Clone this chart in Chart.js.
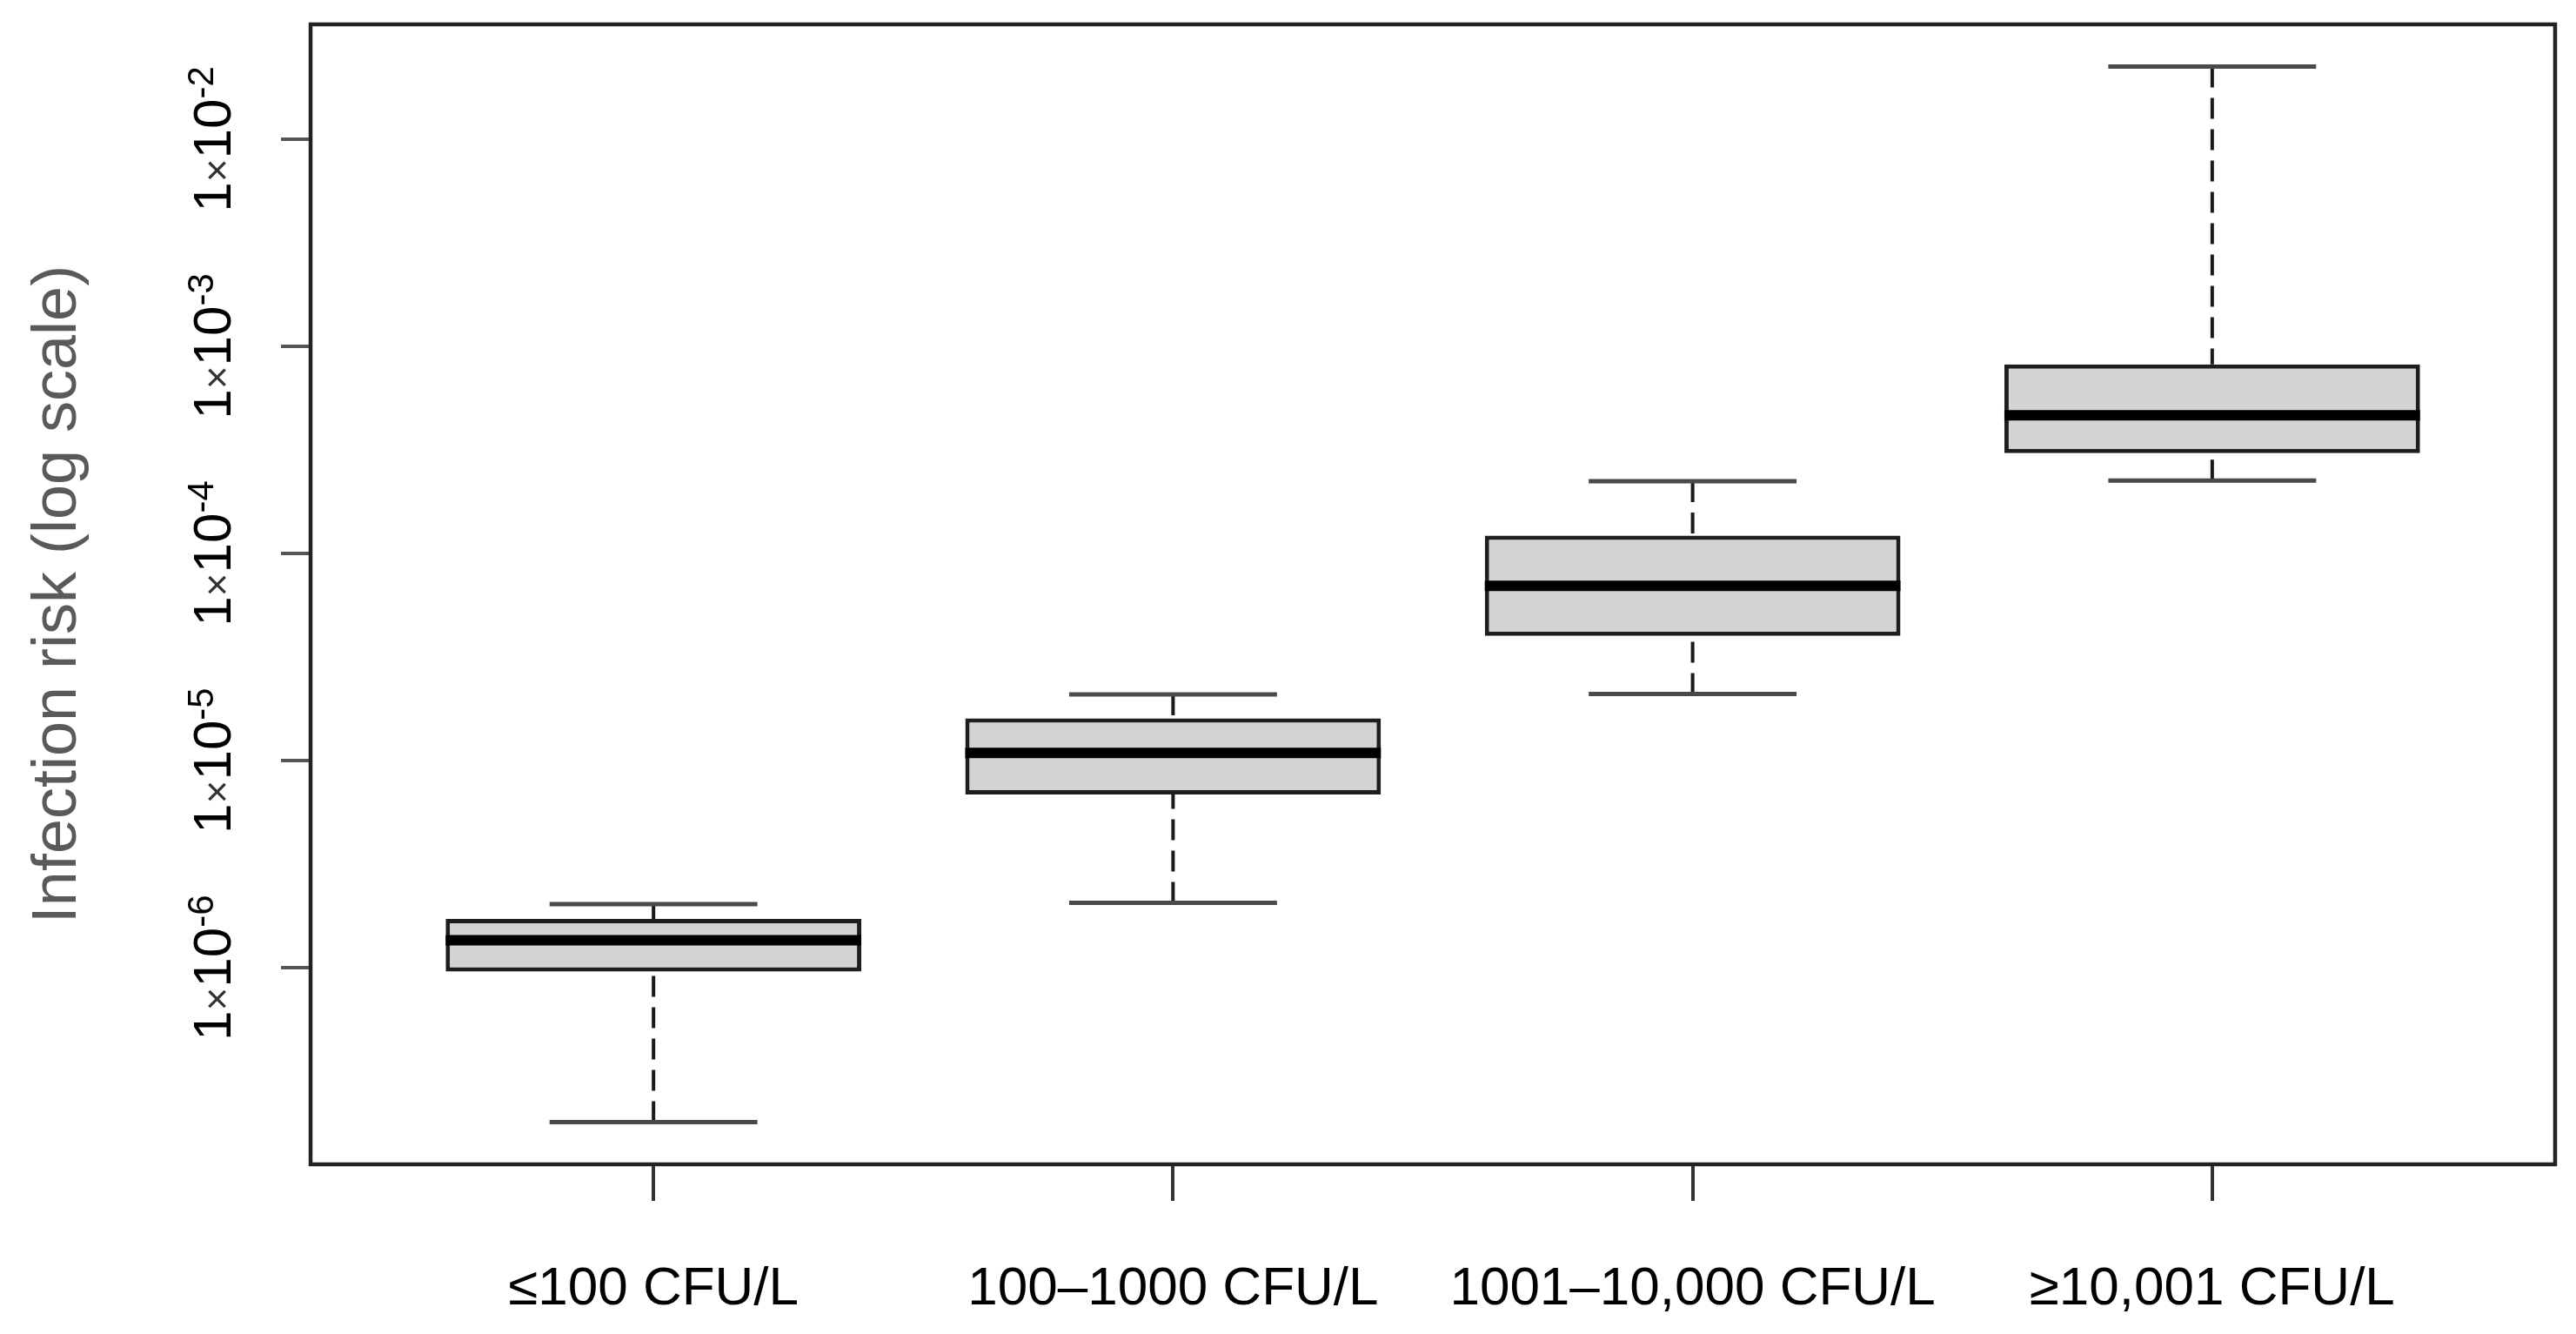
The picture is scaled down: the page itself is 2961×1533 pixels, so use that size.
<!DOCTYPE html>
<html>
<head>
<meta charset="utf8">
<title>Infection risk</title>
<script src="https://cdn.jsdelivr.net/npm/chart.js@4.4.0/dist/chart.umd.min.js"></script>
<style>
  body { margin: 0; background: #fff; }
  #wrap { width: 2961px; height: 1533px; }
</style>
</head>
<body>
<div id="wrap"><canvas id="myChart" width="2961" height="1533"></canvas></div>
<script>
// data
const categories = ['≤100 CFU/L', '100–1000 CFU/L', '1001–10,000 CFU/L', '≥10,001 CFU/L'];
const whiskerLow = [1.80e-7, 2.06e-6, 2.10e-5, 2.25e-4];
const quartile1 = [9.6e-7, 6.86e-6, 4.00e-5, 3.05e-4];
const medians = [1.36e-6, 1.09e-5, 6.97e-5, 4.65e-4];
const quartile3 = [1.72e-6, 1.60e-5, 1.22e-4, 8.17e-4];
const whiskerHigh = [2.03e-6, 2.09e-5, 2.23e-4, 2.24e-2];
const yTickExponents = [-6, -5, -4, -3, -2];

const FONT = "'Liberation Sans', Arial, sans-serif";
const BOX_HALF = 0.4;   // box width 0.8 of a slot
const CAP_HALF = 0.2;   // staple width

// axis limits like R: 4% extension
const n = categories.length;
const xMin = 0.5 - 0.04 * n, xMax = n + 0.5 + 0.04 * n;
const logLo = Math.log10(Math.min(...whiskerLow));
const logHi = Math.log10(Math.max(...whiskerHigh));
const logPad = (logHi - logLo) * 0.04;

// helper: one short segment per box, separated by gaps
function segs(make) {
  const pts = [];
  categories.forEach((c, i) => {
    make(i + 1, i).forEach(p => pts.push(p));
    pts.push({x: i + 1.5, y: null});
  });
  return pts;
}

const boxData = categories.map((c, i) => ({x: i + 1, y: [quartile1[i], quartile3[i]]}));
const medianData = segs((x, i) => [{x: x - BOX_HALF, y: medians[i]}, {x: x + BOX_HALF, y: medians[i]}]);
const capHighData = segs((x, i) => [{x: x - CAP_HALF, y: whiskerHigh[i]}, {x: x + CAP_HALF, y: whiskerHigh[i]}]);
const capLowData = segs((x, i) => [{x: x - CAP_HALF, y: whiskerLow[i]}, {x: x + CAP_HALF, y: whiskerLow[i]}]);
const whiskUpData = segs((x, i) => [{x: x, y: whiskerHigh[i]}, {x: x, y: quartile3[i]}]);
const whiskDownData = segs((x, i) => [{x: x, y: whiskerLow[i]}, {x: x, y: quartile1[i]}]);

function lineSet(data, color, width, dash, order) {
  return {
    type: 'line', data: data, borderColor: color, borderWidth: width,
    borderDash: dash, pointRadius: 0, fill: false, tension: 0,
    spanGaps: false, borderCapStyle: 'butt', order: order
  };
}

const framePlugin = {
  id: 'frame',
  afterDraw(chart) {
    const {ctx, chartArea: a} = chart;
    ctx.save();
    ctx.strokeStyle = '#222';
    ctx.lineWidth = 4.5;
    ctx.strokeRect(a.left, a.top, a.right - a.left, a.bottom - a.top);
    ctx.restore();
  }
};

// rotated y tick labels: 1×10^e
const yLabelPlugin = {
  id: 'yLabels',
  afterDraw(chart) {
    const ctx = chart.ctx;
    const yScale = chart.scales.y;
    yTickExponents.forEach(e => {
      const py = yScale.getPixelForValue(Math.pow(10, e));
      const parts = [
        {t: '1', size: 62, rise: 0, color: '#000'},
        {t: '×', size: 46, rise: 0, color: '#333'},
        {t: '10', size: 62, rise: 0, color: '#000'},
        {t: String(e), size: 42, rise: 20, color: '#000'}
      ];
      let total = 0;
      parts.forEach(p => {
        ctx.font = p.size + 'px ' + FONT;
        p.w = ctx.measureText(p.t).width;
        total += p.w;
      });
      ctx.save();
      ctx.translate(265, py);
      ctx.rotate(-Math.PI / 2);
      ctx.textAlign = 'left';
      ctx.textBaseline = 'alphabetic';
      let x = -total / 2;
      parts.forEach(p => {
        ctx.font = p.size + 'px ' + FONT;
        ctx.fillStyle = p.color;
        ctx.fillText(p.t, x, -p.rise);
        x += p.w;
      });
      ctx.restore();
    });
  }
};

const ctx = document.getElementById('myChart').getContext('2d');
const myChart = new Chart(ctx, {
  type: 'bar',
  data: {
    datasets: [
      lineSet(medianData, '#000', 12, [], 0),
      lineSet(capHighData, '#4a4a4a', 5, [], 1),
      lineSet(capLowData, '#4a4a4a', 5, [], 1),
      lineSet(whiskUpData, '#1a1a1a', 4, [24, 12], 2),
      lineSet(whiskDownData, '#1a1a1a', 4, [24, 12], 2),
      {
        type: 'bar', data: boxData, backgroundColor: '#d3d3d3',
        borderColor: '#1e1e1e', borderWidth: 5, borderSkipped: false,
        barPercentage: 0.8, categoryPercentage: 1, order: 3
      }
    ]
  },
  options: {
    responsive: false,
    devicePixelRatio: 1,
    animation: false,
    layout: { padding: { top: 28, right: 24, left: 0, bottom: 0 } },
    plugins: { legend: { display: false }, tooltip: { enabled: false } },
    scales: {
      x: {
        type: 'linear', min: xMin, max: xMax, offset: false,
        afterBuildTicks: s => { s.ticks = categories.map((c, i) => ({value: i + 1})); },
        afterFit: s => { s.height = 195; },
        ticks: {
          callback: (v, i) => categories[i],
          font: { family: FONT, size: 62 }, color: '#000',
          padding: 65, maxRotation: 0, minRotation: 0, autoSkip: false
        },
        grid: { offset: false, drawOnChartArea: false, tickLength: 42, color: '#333', lineWidth: 4 },
        border: { display: false }
      },
      y: {
        type: 'logarithmic',
        min: Math.pow(10, logLo - logPad), max: Math.pow(10, logHi + logPad),
        afterBuildTicks: s => { s.ticks = yTickExponents.map(e => ({value: Math.pow(10, e)})); },
        afterFit: s => { s.width = 357; },
        ticks: { display: false },
        grid: { drawOnChartArea: false, tickLength: 34, color: '#555', lineWidth: 4 },
        border: { display: false },
        title: {
          display: true, text: 'Infection risk (log scale)', color: '#5a5a5a',
          font: { family: FONT, size: 72 }, padding: { top: 24, bottom: 0 }
        }
      }
    }
  },
  plugins: [framePlugin, yLabelPlugin]
});
</script>
</body>
</html>
